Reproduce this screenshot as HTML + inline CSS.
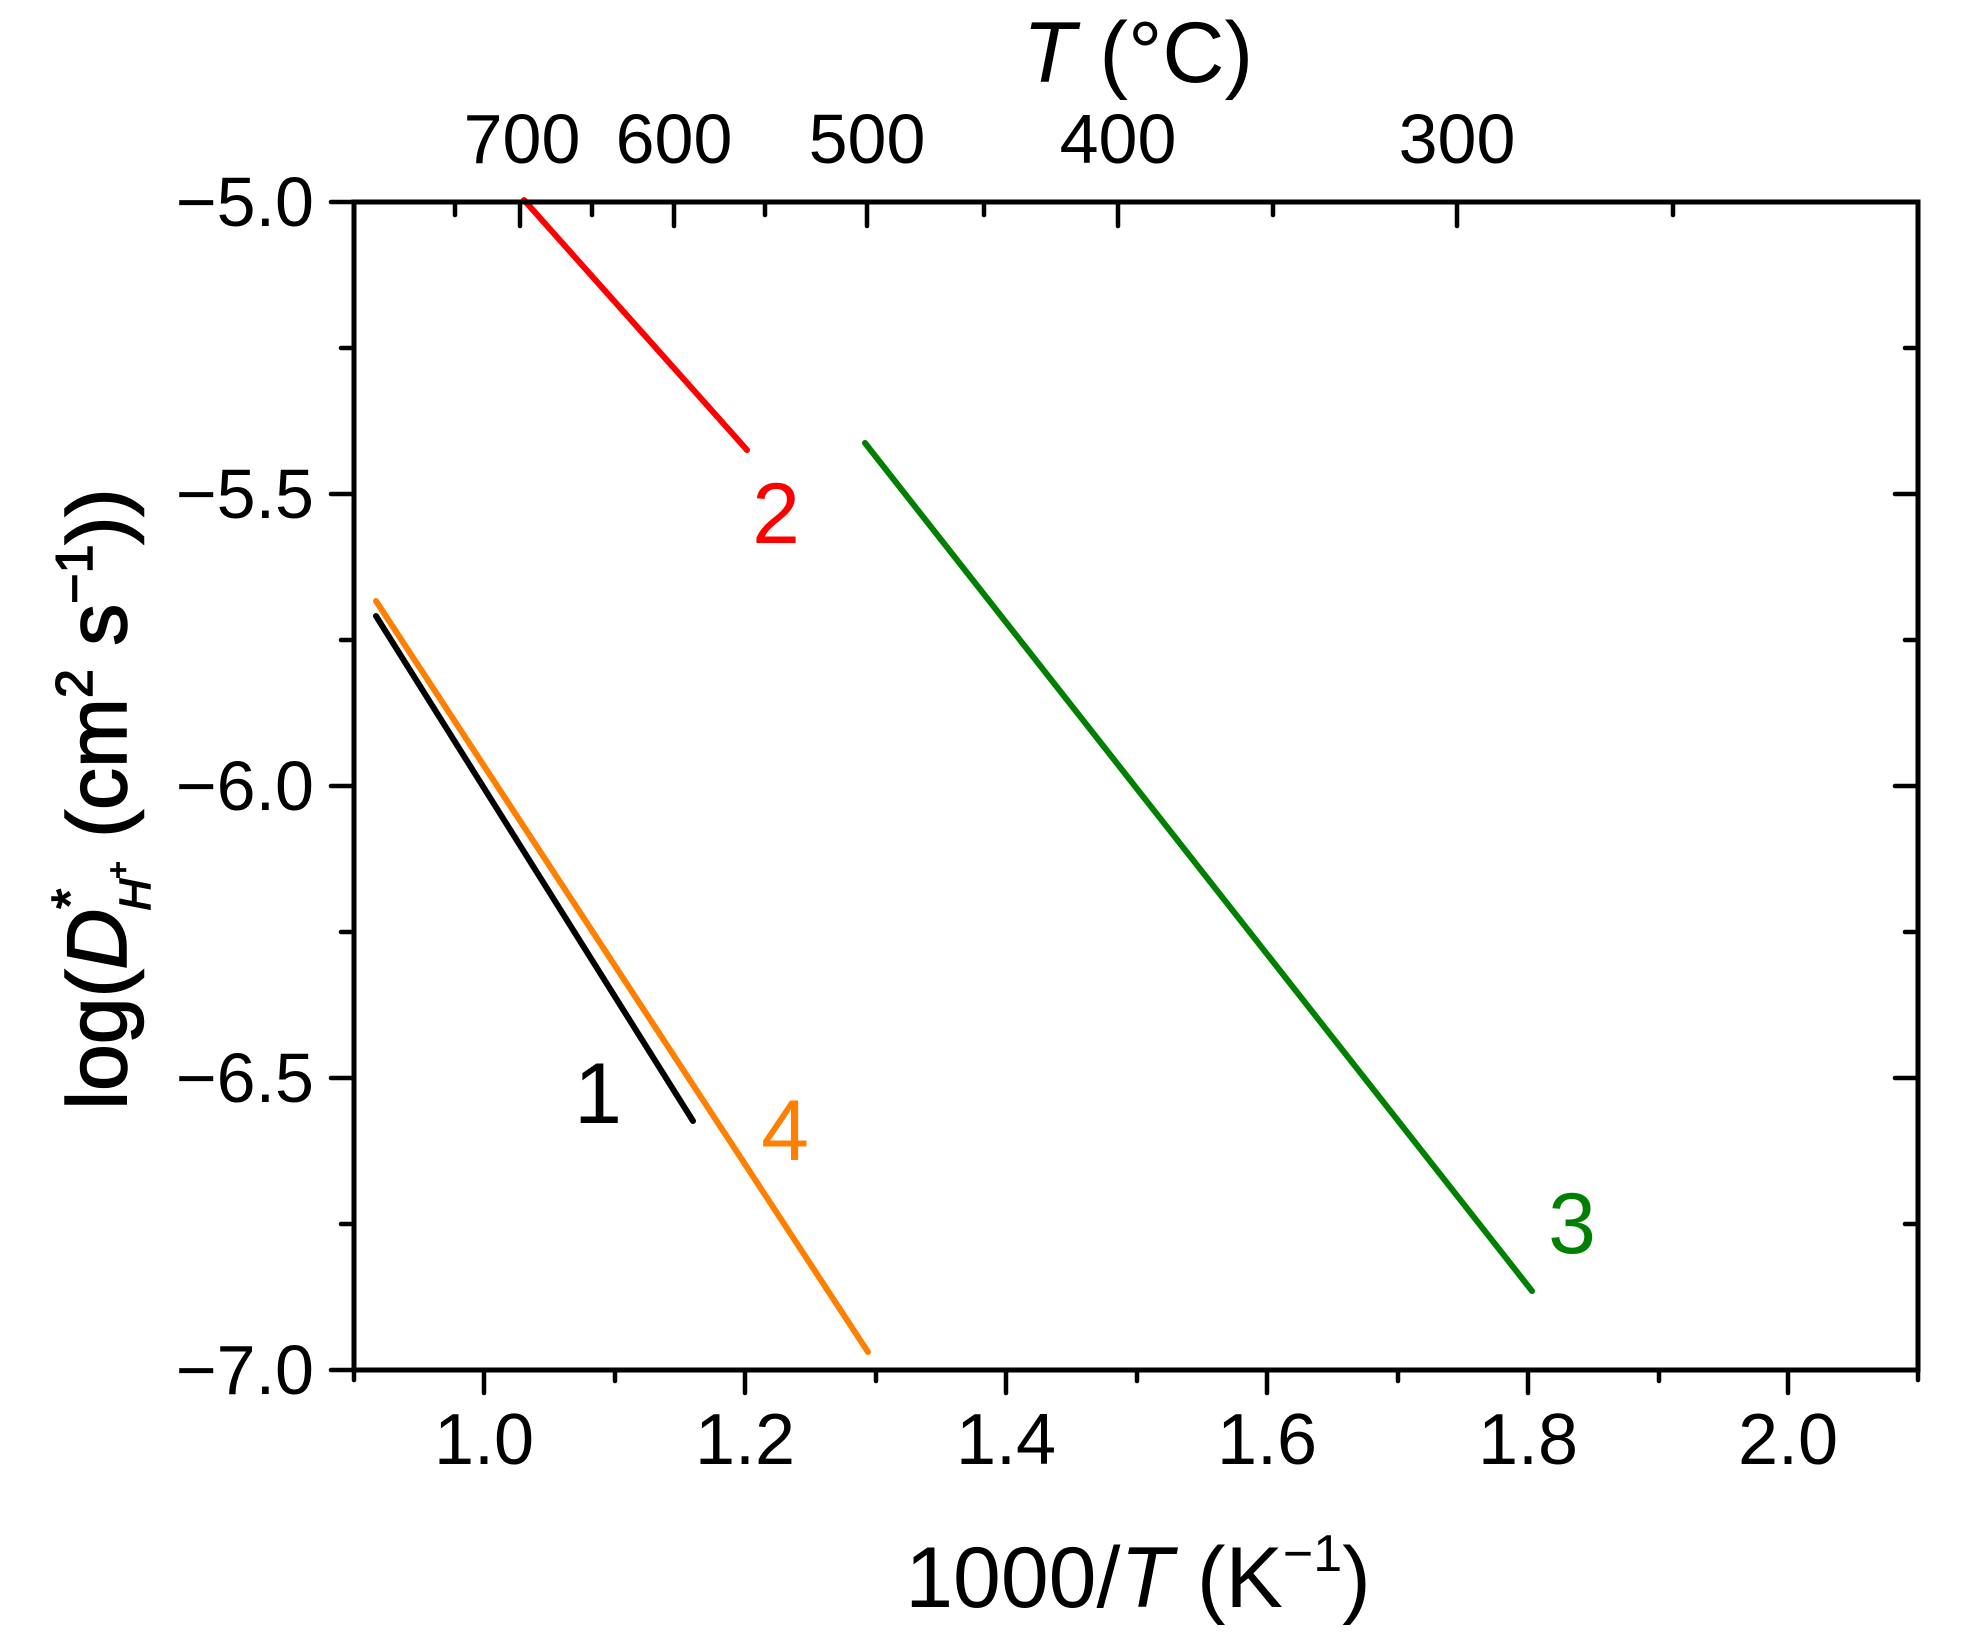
<!DOCTYPE html>
<html><head><meta charset="utf-8"><style>
html,body{margin:0;padding:0;background:#fff;}
svg{display:block;font-family:"Liberation Sans",Arial,sans-serif;}
</style></head><body>
<svg width="1968" height="1650" viewBox="0 0 1968 1650" xmlns="http://www.w3.org/2000/svg">
<rect width="1968" height="1650" fill="#fff"/>
<g stroke-linecap="round" fill="none" stroke-width="6">
<line x1="524" y1="200" x2="747" y2="450" stroke="#FF0000"/>
<line x1="865" y1="443" x2="1532" y2="1291" stroke="#008000"/>
<line x1="376" y1="601" x2="868" y2="1352" stroke="#FF8000"/>
<line x1="376" y1="616" x2="693" y2="1121" stroke="#000000"/>
</g>
<rect x="354" y="202" width="1564" height="1168" fill="none" stroke="#000" stroke-width="5"/>
<g stroke="#000" stroke-width="4.5" stroke-linecap="round">
<line x1="354" y1="1370" x2="354" y2="1380"/>
<line x1="484" y1="1370" x2="484" y2="1393"/>
<line x1="615" y1="1370" x2="615" y2="1381"/>
<line x1="745" y1="1370" x2="745" y2="1393"/>
<line x1="876" y1="1370" x2="876" y2="1381"/>
<line x1="1006" y1="1370" x2="1006" y2="1393"/>
<line x1="1137" y1="1370" x2="1137" y2="1381"/>
<line x1="1267" y1="1370" x2="1267" y2="1393"/>
<line x1="1398" y1="1370" x2="1398" y2="1381"/>
<line x1="1528" y1="1370" x2="1528" y2="1393"/>
<line x1="1659" y1="1370" x2="1659" y2="1381"/>
<line x1="1788" y1="1370" x2="1788" y2="1393"/>
<line x1="1918" y1="1370" x2="1918" y2="1380"/>
<line x1="354" y1="202" x2="331" y2="202"/>
<line x1="354" y1="348" x2="341" y2="348"/>
<line x1="354" y1="494" x2="331" y2="494"/>
<line x1="354" y1="640" x2="341" y2="640"/>
<line x1="354" y1="786" x2="331" y2="786"/>
<line x1="354" y1="932" x2="341" y2="932"/>
<line x1="354" y1="1078" x2="331" y2="1078"/>
<line x1="354" y1="1224" x2="341" y2="1224"/>
<line x1="354" y1="1370" x2="331" y2="1370"/>
<line x1="1918" y1="348" x2="1905" y2="348"/>
<line x1="1918" y1="494" x2="1895" y2="494"/>
<line x1="1918" y1="640" x2="1905" y2="640"/>
<line x1="1918" y1="786" x2="1895" y2="786"/>
<line x1="1918" y1="932" x2="1905" y2="932"/>
<line x1="1918" y1="1078" x2="1895" y2="1078"/>
<line x1="1918" y1="1224" x2="1905" y2="1224"/>
<line x1="520" y1="202" x2="520" y2="226"/>
<line x1="674" y1="202" x2="674" y2="226"/>
<line x1="867" y1="202" x2="867" y2="226"/>
<line x1="1118" y1="202" x2="1118" y2="226"/>
<line x1="1457" y1="202" x2="1457" y2="226"/>
<line x1="455" y1="202" x2="455" y2="215"/>
<line x1="592" y1="202" x2="592" y2="215"/>
<line x1="765" y1="202" x2="765" y2="215"/>
<line x1="984" y1="202" x2="984" y2="215"/>
<line x1="1273" y1="202" x2="1273" y2="215"/>
<line x1="1673" y1="202" x2="1673" y2="215"/>
</g>
<g font-size="70" fill="#000">
<g text-anchor="end">
<text x="314" y="226">−5.0</text>
<text x="314" y="518">−5.5</text>
<text x="314" y="810">−6.0</text>
<text x="314" y="1102">−6.5</text>
<text x="314" y="1394">−7.0</text>
</g>
<g text-anchor="middle" font-size="72">
<text x="484" y="1464">1.0</text>
<text x="745" y="1464">1.2</text>
<text x="1006" y="1464">1.4</text>
<text x="1267" y="1464">1.6</text>
<text x="1528" y="1464">1.8</text>
<text x="1788" y="1464">2.0</text>
</g>
<g text-anchor="middle">
<text x="522" y="163">700</text>
<text x="674" y="163">600</text>
<text x="867" y="163">500</text>
<text x="1118" y="163">400</text>
<text x="1457" y="163">300</text>
</g>
</g>
<g font-size="86" text-anchor="middle">
<text x="776" y="543" fill="#FF0000">2</text>
<text x="1572" y="1253" fill="#008000">3</text>
<text x="785" y="1160" fill="#FF8000">4</text>
<text x="598" y="1123" fill="#000">1</text>
</g>
<text x="1138" y="82" font-size="86" text-anchor="middle"><tspan font-style="italic">T</tspan> (°C)</text>
<text x="1138" y="1607" font-size="86" text-anchor="middle">1000/<tspan font-style="italic">T</tspan> (K<tspan font-size="52" dy="-36">−1</tspan><tspan dy="36">)</tspan></text>
<g transform="translate(126,799) rotate(-90)">
<text x="0" y="0" font-size="84" text-anchor="middle" stroke="#000" stroke-width="1.5">log(<tspan font-style="italic">D</tspan><tspan font-size="52" dy="-38">*</tspan><tspan font-size="44" font-style="italic" dx="-22" dy="62">H</tspan><tspan font-size="30" dy="-22">+</tspan><tspan dy="-2"> (cm</tspan><tspan font-size="52" dy="-34">2</tspan><tspan dy="34"> s</tspan><tspan font-size="52" dy="-34">−1</tspan><tspan dy="34">))</tspan></text>
</g>
</svg>
</body></html>
